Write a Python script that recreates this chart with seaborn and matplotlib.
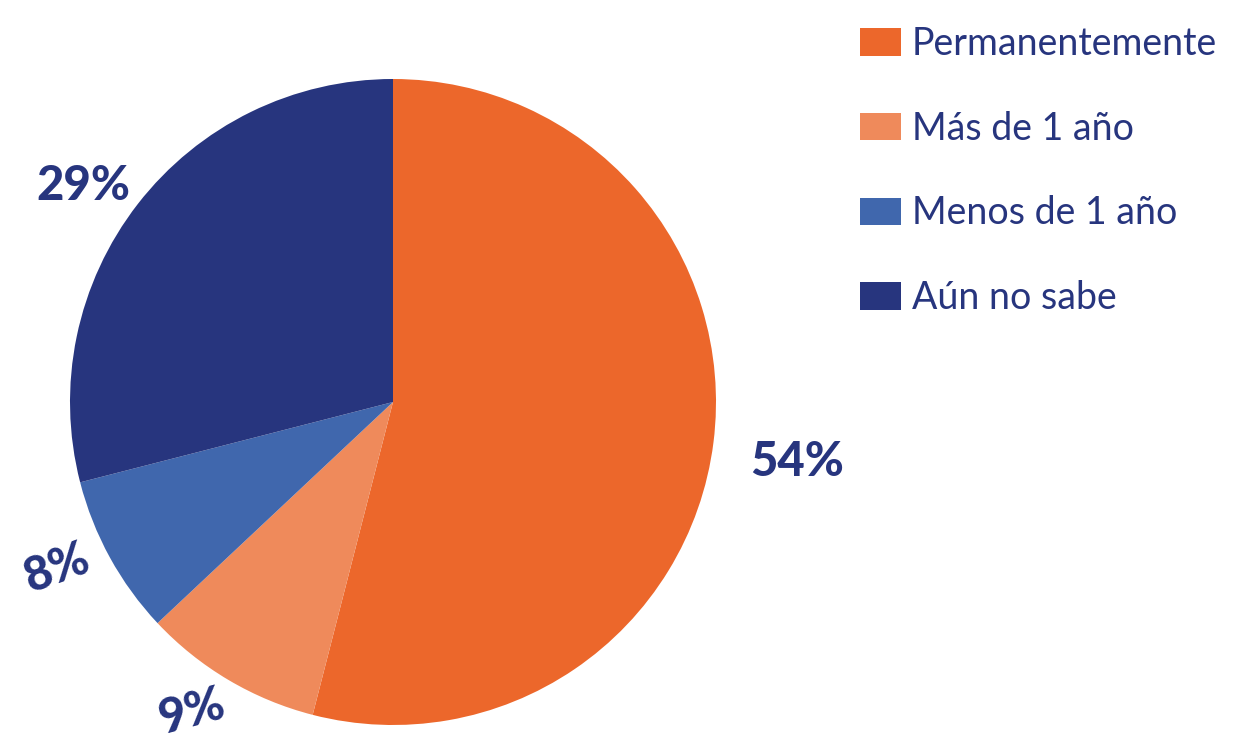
import numpy as np
import matplotlib
matplotlib.use("Agg")
import matplotlib.pyplot as plt
import seaborn as sns

categories = ["Permanentemente", "Más de 1 año", "Menos de 1 año", "Aún no sabe"]
values = [54, 9, 8, 29]
colors = ["#EC672B", "#EF8A5B", "#4067AD", "#27357E"]
text_color = "#27357E"

sns.set_theme(style="white")
plt.rcParams["font.family"] = ["Lato", "DejaVu Sans"]

W, H = 1256, 738
fig = plt.figure(figsize=(W / 100, H / 100), dpi=100)
cx, cy, r = 393, 402, 323
ax = fig.add_axes([(cx - r) / W, (H - cy - r) / H, 2 * r / W, 2 * r / H])

wedges, texts, autotexts = ax.pie(
    values, colors=sns.color_palette(colors), startangle=90, counterclock=False,
    radius=1, autopct="%d%%", pctdistance=1.17,
    wedgeprops=dict(linewidth=0),
    textprops=dict(color=text_color, fontsize=34, fontweight="black"),
)
ax.set_xlim(-1, 1)
ax.set_ylim(-1, 1)
ax.set_aspect("equal")
ax.axis("off")

# fine label placement (distance, angular nudge in degrees, rotation)
dist = [1.264, 1.145, 1.16, 1.168]
nudge = [-1.25, -2.4, -2.5, 2.9]
rot = [0, 15, 20, 0]
for w, t, d, n, ro in zip(wedges, autotexts, dist, nudge, rot):
    ang = np.deg2rad((w.theta1 + w.theta2) / 2 + n)
    t.set_position((d * np.cos(ang), d * np.sin(ang)))
    t.set_rotation(ro)
    t.set_clip_on(False)

leg = fig.legend(
    wedges, categories, loc="upper left",
    bbox_to_anchor=(860 / W, 1 - 26 / H), frameon=False,
    fontsize=27, labelcolor=text_color,
    handlelength=1.1, handleheight=0.75, handletextpad=0.28,
    labelspacing=1.3, borderpad=0, borderaxespad=0,
)

fig.savefig("out.png", dpi=100)
